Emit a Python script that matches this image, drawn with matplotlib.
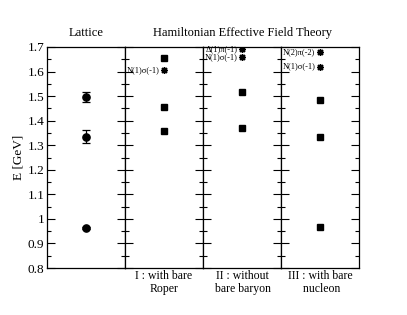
import numpy as np
import matplotlib.pyplot as plt

plt.rcParams['font.family'] = ['Liberation Serif', 'DejaVu Serif']
plt.rcParams['mathtext.fontset'] = 'stix'

# lattice results (GeV)
lat_E = [1.495, 1.335, 0.963]
lat_err = [0.020, 0.026, 0.006]

# HEFT eigenstates per scenario (GeV)
heft_I = [1.655, 1.457, 1.356]
heft_II = [1.517, 1.370]
heft_III = [1.485, 1.333, 0.966]

# non-interacting thresholds (stars) and their labels
thr_I = [1.607]
thr_I_lab = ['N(1)σ(-1)']
thr_II = [1.692, 1.658]
thr_II_lab = ['Δ(1)π(-1)', 'N(1)σ(-1)']
thr_III = [1.680, 1.620]
thr_III_lab = ['N(2)π(-2)', 'N(1)σ(-1)']

bottom_labels = ['', 'I : with bare\nRoper', 'II : without\n bare baryon',
                 'III : with bare\n nucleon']

fig = plt.figure(figsize=(4.07, 3.15), dpi=100)
axs = fig.subplots(1, 4, sharey=True)
fig.subplots_adjust(left=0.1155, right=0.882, bottom=0.149, top=0.851, wspace=0)

star = (8, 2, 0)

for i, ax in enumerate(axs):
    ax.set_xlim(0, 1)
    ax.set_ylim(0.8, 1.7)
    ax.set_xticks([])
    ax.set_yticks(np.arange(0.8, 1.71, 0.1))
    ax.set_yticks(np.arange(0.85, 1.7, 0.1), minor=True)
    ax.tick_params(axis='y', which='major', direction='in', length=6, width=0.8,
                   left=True, right=True, labelsize=9.5, pad=2)
    ax.tick_params(axis='y', which='minor', direction='in', length=3, width=0.8,
                   left=True, right=True)
    if i > 0:
        ax.tick_params(axis='y', labelleft=False)
    for s in ax.spines.values():
        s.set_linewidth(0.9)
    ax.text(0.5, -0.008, bottom_labels[i], transform=ax.transAxes,
            ha='center', va='top', fontsize=8.5, linespacing=1.08)

axs[0].set_yticklabels(['0.8', '0.9', '1', '1.1', '1.2', '1.3', '1.4', '1.5', '1.6', '1.7'])
axs[0].set_ylabel('E [GeV]', fontsize=9.5, labelpad=2)

axs[0].errorbar([0.5] * len(lat_E), lat_E, yerr=lat_err, fmt='o', color='black',
                ms=5.2, capsize=3, elinewidth=0.9, capthick=0.9)
axs[0].text(0.5, 1.035, 'Lattice', transform=axs[0].transAxes, ha='center',
            va='bottom', fontsize=9)

for ax, E, thr, lab in zip(axs[1:], [heft_I, heft_II, heft_III],
                           [thr_I, thr_II, thr_III],
                           [thr_I_lab, thr_II_lab, thr_III_lab]):
    ax.plot([0.5] * len(E), E, 's', color='black', ms=4.4)
    ax.plot([0.5] * len(thr), thr, ls='none', marker=star, color='black', ms=5,
            mew=1.0)
    for y, t in zip(thr, lab):
        ax.text(0.44, y, t, ha='right', va='center', fontsize=6)

fig.text(0.595, 0.875, 'Hamiltonian Effective Field Theory', ha='center',
         va='bottom', fontsize=9)

fig.savefig('out.png', dpi=100)
